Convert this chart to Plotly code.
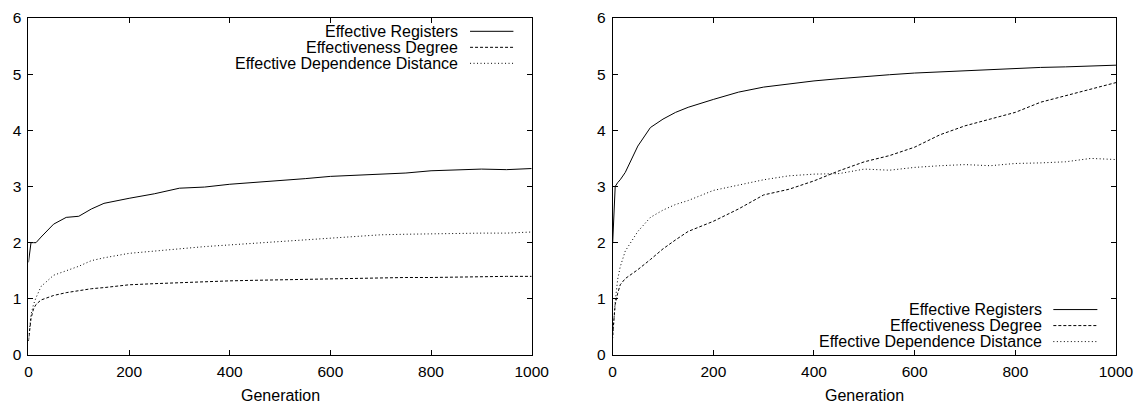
import plotly.graph_objects as go

generation = [0, 5, 10, 15, 25, 50, 75, 100, 125, 150, 200, 250, 300, 350, 400, 450,
              500, 550, 600, 650, 700, 750, 800, 850, 900, 950, 1000]

series_names = ["Effective Registers", "Effectiveness Degree", "Effective Dependence Distance"]
x_title = "Generation"

left_registers = [1.65, 2.0, 2.0, 2.0, 2.1, 2.33, 2.45, 2.47, 2.6, 2.7, 2.79, 2.87, 2.97, 2.99,
                  3.04, 3.07, 3.11, 3.14, 3.18, 3.2, 3.22, 3.24, 3.28, 3.29, 3.31, 3.3, 3.32]
left_degree = [0.25, 0.65, 0.82, 0.9, 0.98, 1.06, 1.11, 1.15, 1.18, 1.2, 1.25, 1.27, 1.29, 1.3,
               1.32, 1.33, 1.34, 1.35, 1.36, 1.37, 1.37, 1.38, 1.38, 1.39, 1.39, 1.4, 1.4]
left_distance = [0.25, 0.72, 0.9, 1.02, 1.22, 1.42, 1.5, 1.58, 1.68, 1.73, 1.81, 1.85, 1.9, 1.93,
                 1.96, 1.99, 2.01, 2.04, 2.08, 2.11, 2.14, 2.15, 2.16, 2.16, 2.17, 2.17, 2.19]

right_registers = [1.99, 3.0, 3.07, 3.12, 3.25, 3.72, 4.05, 4.2, 4.32, 4.41, 4.55, 4.68, 4.77, 4.83,
                   4.88, 4.92, 4.96, 4.99, 5.02, 5.04, 5.07, 5.09, 5.1, 5.12, 5.13, 5.15, 5.16]
right_degree = [0.35, 0.9, 1.1, 1.25, 1.36, 1.52, 1.7, 1.89, 2.05, 2.2, 2.38, 2.6, 2.85, 2.95,
                3.1, 3.28, 3.44, 3.55, 3.7, 3.92, 4.08, 4.2, 4.32, 4.5, 4.62, 4.74, 4.85]
right_distance = [0.3, 0.95, 1.35, 1.57, 1.85, 2.2, 2.45, 2.58, 2.68, 2.75, 2.93, 3.03, 3.12, 3.19,
                  3.22, 3.23, 3.31, 3.29, 3.34, 3.37, 3.39, 3.37, 3.41, 3.42, 3.44, 3.5, 3.48]

x_ticks = [0, 200, 400, 600, 800, 1000]
y_ticks = [0, 1, 2, 3, 4, 5, 6]

dashes = ["solid", "3px,2px", "1px,2.5px"]
FONT = "Liberation Sans, Arial, Helvetica, sans-serif"

fig = go.Figure()
panels = [("x", "y", [left_registers, left_degree, left_distance]),
          ("x2", "y2", [right_registers, right_degree, right_distance])]
for xa, ya, data in panels:
    for name, vals, dash in zip(series_names, data, dashes):
        fig.add_trace(go.Scatter(x=generation, y=vals, mode="lines", name=name,
                                 xaxis=xa, yaxis=ya, showlegend=False,
                                 line=dict(color="black", width=1, dash=dash)))

axis_common = dict(showline=True, linecolor="black", linewidth=1, mirror="ticks",
                   ticks="inside", ticklen=5, tickcolor="black", showgrid=False,
                   zeroline=False, automargin=False,
                   tickfont=dict(family=FONT, size=15.5, color="black"))

fig.update_layout(
    width=1139, height=403,
    margin=dict(l=0, r=0, t=18, b=48, pad=0),
    paper_bgcolor="white", plot_bgcolor="white",
    xaxis=dict(domain=[0.025, 0.4668], range=[0, 1000], tickvals=x_ticks, anchor="y",
               ticklabelstandoff=2, **axis_common),
    yaxis=dict(domain=[0, 1], range=[0, 6], tickvals=y_ticks, anchor="x",
               ticklabelstandoff=3, **axis_common),
    xaxis2=dict(domain=[0.5379, 0.9798], range=[0, 1000], tickvals=x_ticks, anchor="y2",
                ticklabelstandoff=2, **axis_common),
    yaxis2=dict(domain=[0, 1], range=[0, 6], tickvals=y_ticks, anchor="x2",
                ticklabelstandoff=3, **axis_common),
)

# x axis titles as annotations below each panel
for xa in ["x", "x2"]:
    fig.add_annotation(xref=f"{xa} domain", yref="paper", x=0.5, y=-0.1203,
                       text=x_title, showarrow=False, xanchor="center", yanchor="middle",
                       font=dict(family=FONT, size=16, color="black"))

# manual gnuplot-style legends (text left of sample line)
legend_cfg = [("x", "y", 0.8555, 0.8775, 0.9637, [0.9605, 0.913, 0.8655]),
              ("x2", "y2", 0.855, 0.8755, 0.963, [0.1348, 0.0873, 0.0398])]
for xa, ya, tx, s0, s1, rows in legend_cfg:
    for name, dash, yy in zip(series_names, dashes, rows):
        fig.add_annotation(xref=f"{xa} domain", yref=f"{ya} domain", x=tx, y=yy,
                           text=name, showarrow=False, xanchor="right", yanchor="middle",
                           borderpad=0, font=dict(family=FONT, size=16, color="black"))
        fig.add_shape(type="line", xref=f"{xa} domain", yref=f"{ya} domain",
                      x0=s0, x1=s1, y0=yy, y1=yy,
                      line=dict(color="black", width=1, dash=dash))

fig.write_html("out.html")
